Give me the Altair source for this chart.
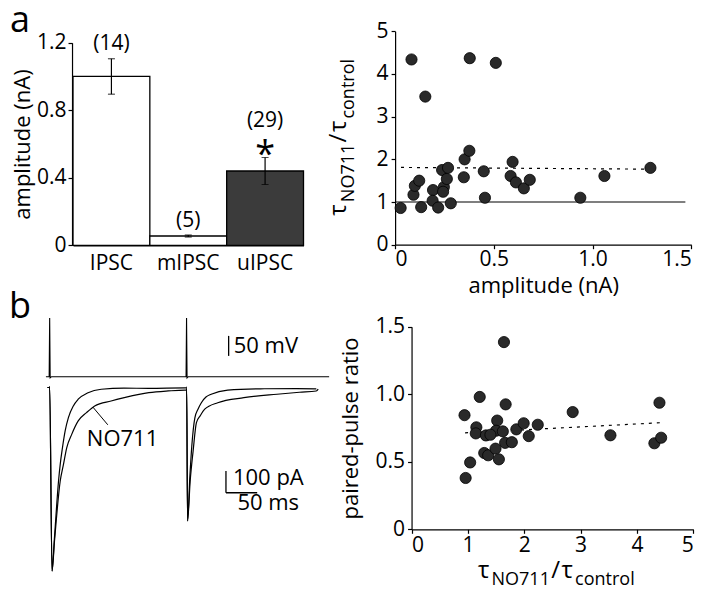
import altair as alt
import pandas as pd

FONT = "Open Sans"

# ---------------- panel a : bar chart ----------------
bar_groups = ["IPSC", "mIPSC", "uIPSC"]
bar_mean = [1.00, 0.055, 0.44]
bar_sem = [0.105, 0.006, 0.08]
bar_n = ["(14)", "(5)", "(29)"]
bar_star = ["", "", "*"]

# ---------------- panel a : scatter ----------------
a_amp = [0.083, 0.378, 0.510, 0.153, 0.028, 0.093, 0.100, 0.122, 0.132, 0.192,
         0.190, 0.218, 0.238, 0.247, 0.243, 0.262, 0.268, 0.282, 0.348, 0.352,
         0.376, 0.449, 0.455, 0.595, 0.585, 0.612, 0.652, 0.682, 0.938, 1.060, 1.293]
a_tau = [4.34, 4.37, 4.26, 3.47, 0.86, 1.17, 1.38, 1.50, 0.88, 1.28,
         1.03, 0.87, 1.75, 1.35, 1.24, 1.54, 1.80, 0.97, 1.58, 2.00,
         2.20, 1.72, 1.10, 1.94, 1.61, 1.46, 1.32, 1.52, 1.10, 1.61, 1.80]
a_fit_x = [0.03, 1.29]
a_fit_y = [1.81, 1.77]
a_unity_x = [0.0, 1.47]
a_unity_y = [1.0, 1.0]

# ---------------- panel b : traces (ms, pA, mV) ----------------
ctrl_t = [-3.6, -0.6, 0.0, 3.8, 7.5, 14.2, 16.9, 20.5, 24.8, 30.0, 37.9, 45.7, 61.5,
          82.6, 119.0, 159.0, 216.7, 218.6, 219.4, 220.8, 224.5, 227.6, 232.5, 237.7,
          242.9, 250.3, 258.7, 285.0, 337.5, 395.0, 427.0]
ctrl_i = [0, 0, 3, -846, -700, -431, -354, -277, -200, -139, -85, -54, -24,
          -8, -3, -4, -2, -2, 2, -615, -410, -270, -140, -99,
          -70, -44, -31, -12, -6, -5, -6]
no711_t = [-3.6, -0.6, 0.0, 3.8, 7.8, 16.9, 22.1, 27.4, 35.3, 45.7, 59.0, 72.1, 98.4,
           119.4, 158.8, 190.0, 216.7, 218.6, 219.4, 220.8, 225.0, 229.7, 235.0, 240.9,
           248.3, 269.2, 311.0, 364.0, 400.0, 427.0, 430.0]
no711_i = [0, 0, 3, -846, -705, -431, -354, -277, -216, -154, -116, -85, -62,
           -47, -24, -16, -12, -12, -8, -615, -431, -293, -162, -131,
           -100, -70, -47, -31, -22, -16, -8]
volt_t = [-6.0, -0.8, 0.0, 0.8, 3.0, 218.4, 219.2, 220.0, 222.0, 447.5]
volt_v = [-60, -60, 87, -63, -60, -60, 87, -63, -60, -60]

# ---------------- panel b : scatter ----------------
b_tau = [1.64, 1.21, 0.94, 1.67, 2.86, 4.40, 3.53, 4.31, 4.43, 1.04, 0.96, 1.15,
         1.14, 1.32, 1.52, 1.50, 1.62, 1.66, 1.78, 1.86, 1.99, 2.08, 2.24, 1.29,
         1.36, 1.49, 1.55, 1.40]
b_ppr = [1.386, 0.98, 0.845, 0.925, 0.868, 0.937, 0.696, 0.637, 0.678, 0.495, 0.38, 0.755,
         0.71, 0.695, 0.805, 0.73, 0.725, 0.64, 0.645, 0.74, 0.785, 0.69, 0.774, 0.565,
         0.548, 0.597, 0.518, 0.70]
b_fit_x = [0.95, 4.42]
b_fit_y = [0.714, 0.789]

# ---------------- layout (figure pixels) ----------------
W, H = 704, 582


def px(r):
    return (r - 7) * 0.985


def py(r):
    return r - 2


FMT1 = "datum.value == 0 ? '0' : format(datum.value, '.1f')"
DOT_FILL = "#2a2a2a"
LAB = 21
TIT = 22
EM = {"τ": 0.50, "N": 0.74, "O": 0.78, "7": 0.572, "1": 0.572, "/": 0.367,
      "c": 0.478, "o": 0.556, "n": 0.614, "t": 0.353, "r": 0.408, "l": 0.273}
TAU_PIECES = [("τ", 24, False), ("NO711", 18, True), ("/", 24, False),
              ("τ", 24, False), ("control", 18, True)]
ONE = pd.DataFrame({"k": [0]})


def text_width(s, size):
    return sum(EM.get(ch, 0.55) for ch in s) * size


def tau_title(center, base, sub_shift, rotated):
    gap = 1.5
    total = sum(text_width(s, f) for s, f, _ in TAU_PIECES) + gap * (len(TAU_PIECES) - 1)
    pos = 0.0
    layers = []
    for s, f, sub in TAU_PIECES:
        b = base + (sub_shift if sub else 0)
        if rotated:
            x_, y_, ang = b, center + total / 2 - pos, 270
        else:
            x_, y_, ang = center - total / 2 + pos, b, 0
        layers.append(
            alt.Chart(ONE).mark_text(text=s, fontSize=f, angle=ang, align="left",
                                     baseline="alphabetic", font=FONT, color="black")
            .encode(x=alt.value(x_), y=alt.value(y_)))
        pos += text_width(s, f) + gap
    return layers


def panel_letter(letter, x_, y_):
    return alt.Chart(ONE).mark_text(text=letter, fontSize=36, align="left",
                                    baseline="alphabetic", font=FONT, color="black").encode(
        x=alt.value(x_), y=alt.value(y_))


def left_axis(x_at, **kw):
    return alt.Axis(orient="left", offset=-x_at, **kw)


def bottom_axis(y_at, **kw):
    return alt.Axis(orient="bottom", offset=-(H - y_at), **kw)


# ---------------- bar chart ----------------
bdf = pd.DataFrame({"group": bar_groups, "mean": bar_mean, "sem": bar_sem,
                    "n": bar_n, "star": bar_star})
bdf["lo"] = bdf["mean"] - bdf["sem"]
bdf["hi"] = bdf["mean"] + bdf["sem"]
bdf["star_y"] = bdf["hi"] + 0.055
bdf["n_y"] = bdf["hi"] + 0.085 + (bdf["star"] != "").astype(float) * 0.13

bx_scale = alt.Scale(domain=bar_groups, range=[px(73), px(307)], paddingInner=0, paddingOuter=0)
by_scale = alt.Scale(domain=[0, 1.2], range=[py(239.3), py(36.7)], nice=False)
bx_plain = alt.X("group:N", sort=bar_groups, scale=bx_scale)
bx = alt.X("group:N", sort=bar_groups, scale=bx_scale,
           axis=bottom_axis(py(239.3), title=None, ticks=False, labelAngle=0, labelPadding=7))
bars = alt.Chart(bdf).mark_bar(stroke="black", strokeWidth=1.3).encode(
    x=bx,
    y=alt.Y("mean:Q", scale=by_scale,
            axis=left_axis(px(72), values=[0, 0.4, 0.8, 1.2], labelExpr=FMT1,
                           title="amplitude (nA)", titlePadding=2, labelPadding=2)),
    color=alt.Color("group:N", scale=alt.Scale(domain=bar_groups,
                                               range=["#ffffff", "#ffffff", "#3b3b3b"]),
                    legend=None))
err = alt.Chart(bdf).mark_rule(color="black", strokeWidth=1.2).encode(
    x=bx_plain, y=alt.Y("lo:Q", scale=by_scale), y2="hi:Q")
caps = alt.Chart(bdf).transform_fold(["lo", "hi"]).mark_tick(
    orient="horizontal", size=7, thickness=1.2, color="black").encode(
    x=bx_plain, y=alt.Y("value:Q", scale=by_scale))
nlab = alt.Chart(bdf).mark_text(fontSize=LAB, font=FONT, baseline="middle", color="black").encode(
    x=bx_plain, y=alt.Y("n_y:Q", scale=by_scale), text="n:N")
star = alt.Chart(bdf).mark_text(fontSize=36, font=FONT, baseline="alphabetic", dy=18,
                                color="black").encode(
    x=bx_plain, y=alt.Y("star_y:Q", scale=by_scale), text="star:N")
bar_panel = alt.layer(bars, err, caps, nlab, star)

# ---------------- scatter a ----------------
adf = pd.DataFrame({"amp": a_amp, "tau": a_tau})
ax_s = alt.Scale(domain=[0, 1.5], range=[px(400), px(700.7)], nice=False)
ay_s = alt.Scale(domain=[0, 5], range=[py(238.7), py(25.3)], nice=False)
a_pts = alt.Chart(adf).mark_circle(size=125, color=DOT_FILL, opacity=1, stroke="black",
                                   strokeWidth=0.8).encode(
    x=alt.X("amp:Q", scale=ax_s,
            axis=bottom_axis(py(238.7), values=[0, 0.5, 1.0, 1.5], labelExpr=FMT1,
                             title="amplitude (nA)", labelPadding=0, titlePadding=6)),
    y=alt.Y("tau:Q", scale=ay_s,
            axis=left_axis(px(400), values=[0, 1, 2, 3, 4, 5], format="d", title=None,
                           labelPadding=3)))
a_unity = alt.Chart(pd.DataFrame({"amp": a_unity_x, "tau": a_unity_y})).mark_line(
    color="black", strokeWidth=1.2).encode(x=alt.X("amp:Q", scale=ax_s), y=alt.Y("tau:Q", scale=ay_s))
a_fit = alt.Chart(pd.DataFrame({"amp": a_fit_x, "tau": a_fit_y})).mark_line(
    color="black", strokeWidth=1.2, strokeDash=[3, 5]).encode(
    x=alt.X("amp:Q", scale=ax_s), y=alt.Y("tau:Q", scale=ay_s))
scatter_a = alt.layer(a_unity, a_fit, a_pts)

# ---------------- traces ----------------
t_scale = alt.Scale(domain=[0, 400], range=[px(49.3), px(49.3 + 0.634 * 400)], nice=False, zero=False)
i_scale = alt.Scale(domain=[-800, 0], range=[py(381.5 + 0.217 * 800), py(381.5)], nice=False, zero=False)
v_scale = alt.Scale(domain=[-60, 90], range=[py(370.7), py(370.7 - 150 / 2.5)], nice=False, zero=False)
tx = alt.X("t:Q", scale=t_scale, axis=None)
iy = alt.Y("I:Q", scale=i_scale, axis=None)
vy = alt.Y("V:Q", scale=v_scale, axis=None)

cur = pd.concat([
    pd.DataFrame({"t": ctrl_t, "I": ctrl_i, "cond": "control"}),
    pd.DataFrame({"t": no711_t, "I": no711_i, "cond": "NO711"}),
])
cur["i"] = range(len(cur))
cur_lines = alt.Chart(cur).mark_line(color="black", strokeWidth=1.2, interpolate="monotone").encode(
    x=tx, y=iy, detail="cond:N", order="i:Q")
pa_bar = alt.Chart(pd.DataFrame({"t": [282.3], "I": [-385], "I2": [-485]})).mark_rule(
    color="black", strokeWidth=1.3).encode(x=tx, y=iy, y2="I2:Q")
ms_bar = alt.Chart(pd.DataFrame({"t": [282.3], "t2": [332.3], "I": [-485]})).mark_rule(
    color="black", strokeWidth=1.3).encode(x=tx, x2="t2:Q", y=iy)
pointer = alt.Chart(pd.DataFrame({"t": [93.1], "t2": [69.4], "I": [-172], "I2": [-91]})).mark_rule(
    color="black", strokeWidth=1).encode(x=tx, x2="t2:Q", y=iy, y2="I2:Q")
text_c = alt.Chart(pd.DataFrame({"t": [116.7, 350.0], "I": [-237, -531],
                                 "label": ["NO711", "50 ms"]})).mark_text(
    fontSize=TIT, font=FONT, baseline="middle", align="center", color="black").encode(
    x=tx, y=iy, text="label:N")
text_l = alt.Chart(pd.DataFrame({"t": [293.5], "I": [-418], "label": ["100 pA"]})).mark_text(
    fontSize=TIT, font=FONT, baseline="middle", align="left", color="black").encode(
    x=tx, y=iy, text="label:N")
current_panel = alt.layer(cur_lines, pa_bar, ms_bar, pointer, text_c, text_l)

volt = pd.DataFrame({"t": volt_t, "V": volt_v})
volt["i"] = range(len(volt))
v_line = alt.Chart(volt).mark_line(color="black", strokeWidth=1.1).encode(x=tx, y=vy, order="i:Q")
mv_bar = alt.Chart(pd.DataFrame({"t": [286.6], "V": [-8], "V2": [42]})).mark_rule(
    color="black", strokeWidth=1.3).encode(x=tx, y=vy, y2="V2:Q")
mv_text = alt.Chart(pd.DataFrame({"t": [294.6], "V": [17], "label": ["50 mV"]})).mark_text(
    fontSize=TIT, font=FONT, baseline="middle", align="left", color="black").encode(
    x=tx, y=vy, text="label:N")
voltage_panel = alt.layer(v_line, mv_bar, mv_text)

# ---------------- scatter b ----------------
bsdf = pd.DataFrame({"tau": b_tau, "ppr": b_ppr})
bx_s = alt.Scale(domain=[0, 5], range=[px(416.7), px(702.7)], nice=False)
by_s = alt.Scale(domain=[0, 1.5], range=[py(523.3), py(320.7)], nice=False)
b_pts = alt.Chart(bsdf).mark_circle(size=125, color=DOT_FILL, opacity=1, stroke="black",
                                    strokeWidth=0.8).encode(
    x=alt.X("tau:Q", scale=bx_s,
            axis=bottom_axis(py(523.3), values=[0, 1, 2, 3, 4, 5], format="d", title=None,
                             labelPadding=1)),
    y=alt.Y("ppr:Q", scale=by_s,
            axis=left_axis(px(416.7), values=[0, 0.5, 1.0, 1.5], labelExpr=FMT1,
                           title="paired-pulse ratio", titlePadding=13, labelPadding=3)))
b_fit = alt.Chart(pd.DataFrame({"tau": b_fit_x, "ppr": b_fit_y})).mark_line(
    color="black", strokeWidth=1.2, strokeDash=[3, 5]).encode(
    x=alt.X("tau:Q", scale=bx_s), y=alt.Y("ppr:Q", scale=by_s))
scatter_b = alt.layer(b_fit, b_pts)

# ---------------- assemble ----------------
labels = [panel_letter("a", px(9), py(26)), panel_letter("b", px(8), py(312))]
labels += tau_title(py(132), px(350), 8, True)
labels += tau_title(px(563), py(572), 7, False)

chart = alt.layer(bar_panel, scatter_a, voltage_panel, current_panel, scatter_b, *labels).resolve_scale(
    x="independent", y="independent").properties(
    width=W, height=H, padding=0, autosize=alt.AutoSizeParams(type="none")).configure(
    font=FONT).configure_view(stroke=None).configure_axis(
    grid=False, domainColor="black", tickColor="black", labelColor="black",
    titleColor="black", labelFont=FONT, titleFont=FONT, labelFontSize=LAB,
    titleFontSize=TIT, titleFontWeight="normal", tickSize=4, domainWidth=1.2,
    tickWidth=1.2)

chart.save("out.html", embed_options={"renderer": "svg", "actions": False})
